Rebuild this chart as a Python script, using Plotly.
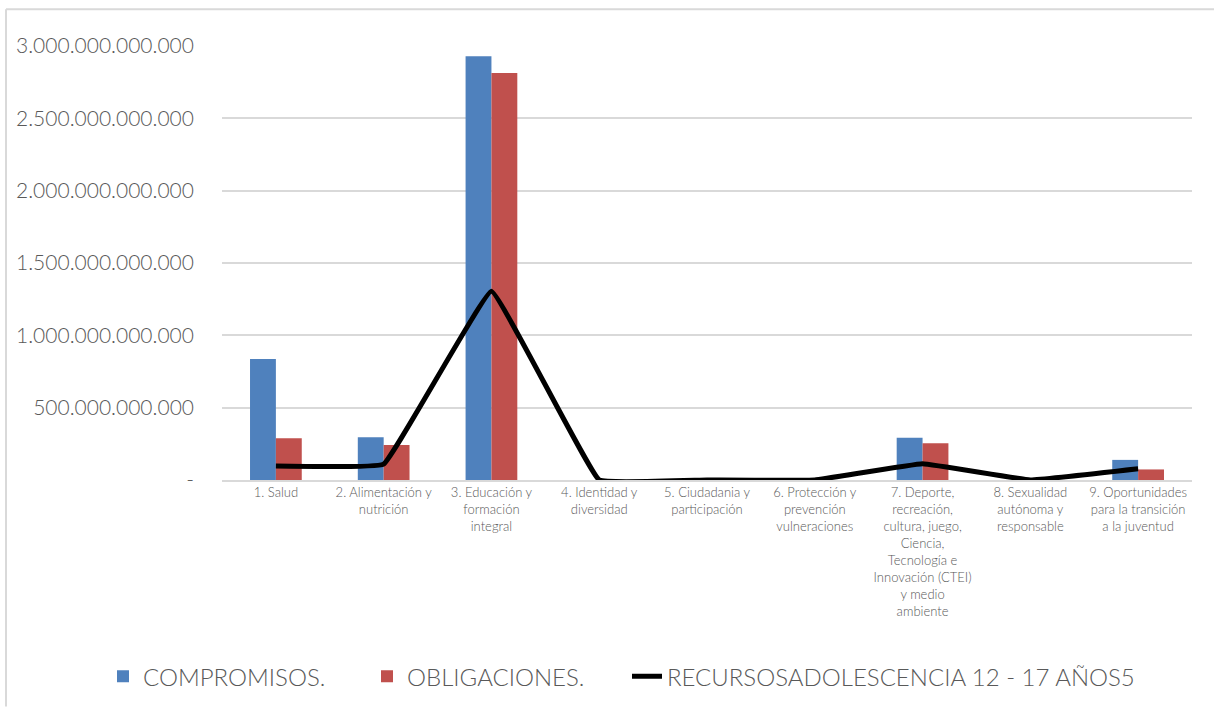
import plotly.graph_objects as go

categories = [
    "1. Salud",
    "2. Alimentación y<br>nutrición",
    "3. Educación y<br>formación<br>integral",
    "4. Identidad y<br>diversidad",
    "5. Ciudadania y<br>participación",
    "6. Protección y<br>prevención<br>vulneraciones",
    "7. Deporte,<br>recreación,<br>cultura, juego,<br>Ciencia,<br>Tecnología e<br>Innovación (CTEI)<br>y medio<br>ambiente",
    "8. Sexualidad<br>autónoma y<br>responsable",
    "9. Oportunidades<br>para la transición<br>a la juventud",
]
compromisos = [837e9, 295e9, 2930e9, 0, 0, 0, 292e9, 0, 139e9]
obligaciones = [288e9, 242e9, 2814e9, 0, 0, 0, 254e9, 0, 73e9]
recursos = [96e9, 110e9, 1304e9, 0, 0, 0, 112e9, 0, 78e9]

tick_vals = [0, 5e11, 1e12, 1.5e12, 2e12, 2.5e12, 3e12]
tick_text = ["-", "500.000.000.000", "1.000.000.000.000", "1.500.000.000.000",
             "2.000.000.000.000", "2.500.000.000.000", "3.000.000.000.000"]

W, H = 1214, 711
L, R, T, B = 222, 22, 46, 228
pw, ph = W - L - R, H - T - B

def px(x):
    return (x - L) / pw

def py(y):
    return (H - B - y) / ph

grey = "#595959"
tfont = "Lato, Open Sans, sans-serif"

fig = go.Figure()
fig.add_trace(go.Bar(x=categories, y=compromisos, name="COMPROMISOS.", legend="legend",
                     marker=dict(color="#4F81BD", line=dict(width=0))))
fig.add_trace(go.Bar(x=categories, y=obligaciones, name="OBLIGACIONES.", legend="legend2",
                     marker=dict(color="#C0504D", line=dict(width=0))))
fig.add_trace(go.Scatter(x=categories, y=recursos, name="RECURSOSADOLESCENCIA 12 - 17 AÑOS5",
                         legend="legend3", mode="lines",
                         line=dict(color="black", width=5, shape="spline", smoothing=0.2)))

def leg(xpix):
    return dict(orientation="h", x=px(xpix), y=py(681), xanchor="left", yanchor="middle",
                font=dict(family=tfont, size=24, color=grey, weight=300),
                bgcolor="rgba(0,0,0,0)")

fig.update_layout(
    width=W, height=H,
    margin=dict(l=L, r=R, t=T, b=B),
    paper_bgcolor="white", plot_bgcolor="white",
    barmode="group", bargap=0.52, bargroupgap=0,
    font=dict(family=tfont, color=grey, weight=300),
    showlegend=True,
    legend=leg(103), legend2=leg(367), legend3=leg(627),
    xaxis=dict(type="category", showgrid=False, showline=True, linecolor="#d9d9d9", linewidth=1.5,
               ticks="", tickangle=0, tickfont=dict(size=13, color=grey, family=tfont, weight=300),
               fixedrange=True),
    yaxis=dict(range=[0, 3e12], tickvals=tick_vals, ticktext=tick_text, showgrid=True,
               gridcolor="#d9d9d9", gridwidth=1.5, zeroline=False, showline=False, ticks="",
               ticklabelstandoff=27, tickfont=dict(size=21, color=grey, family=tfont, weight=300)),
    shapes=[
        dict(type="line", xref="paper", yref="paper", x0=px(6), x1=px(1214), y0=py(9), y1=py(9),
             line=dict(color="#d9d9d9", width=2)),
        dict(type="line", xref="paper", yref="paper", x0=px(6), x1=px(6), y0=py(9), y1=py(711),
             line=dict(color="#d9d9d9", width=2)),
    ],
)

fig.write_html("out.html", config={"displayModeBar": False},
               post_script="document.body.style.margin='0';document.body.style.overflow='hidden';")
